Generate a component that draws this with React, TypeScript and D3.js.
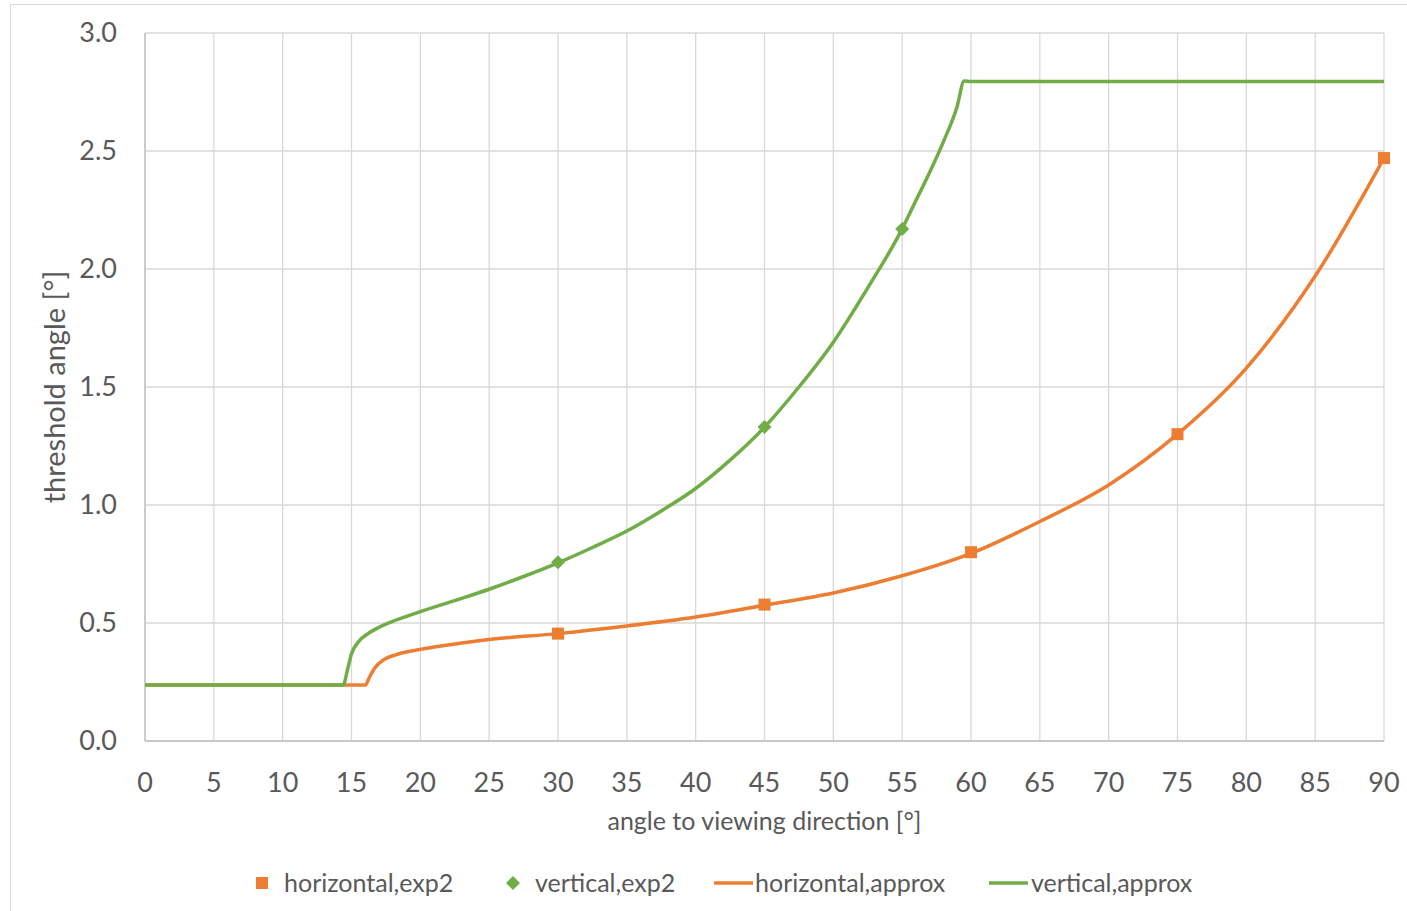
import React from "react";
import * as d3 from "d3";

const xTicks = [0, 5, 10, 15, 20, 25, 30, 35, 40, 45, 50, 55, 60, 65, 70, 75, 80, 85, 90];
const yTicks = [0, 0.5, 1.0, 1.5, 2.0, 2.5, 3.0];

const horizExpX = [30, 45, 60, 75, 90];
const horizExpY = [0.455, 0.578, 0.8, 1.3, 2.47];
const vertExpX = [30, 45, 55];
const vertExpY = [0.757, 1.33, 2.17];

const horizApproxX = [0, 16, 16.3, 16.7, 17.3, 18.2, 19.5, 21, 23, 25, 30, 35, 40, 45, 50, 55, 60, 65, 70, 75, 80, 85, 90];
const horizApproxY = [0.237, 0.237, 0.27, 0.31, 0.343, 0.365, 0.383, 0.398, 0.415, 0.43, 0.455, 0.487, 0.525, 0.575, 0.627, 0.7, 0.795, 0.93, 1.085, 1.3, 1.58, 1.97, 2.47];
const vertApproxX = [0, 14.4, 14.7, 15, 15.5, 16.2, 17, 18, 19, 20, 22.5, 25, 27.5, 30, 32.5, 35, 37.5, 40, 42.5, 45, 47.5, 50, 52.5, 55, 56, 57, 58, 59, 59.5, 60, 90];
const vertApproxY = [0.237, 0.237, 0.3, 0.37, 0.42, 0.455, 0.482, 0.507, 0.528, 0.548, 0.595, 0.643, 0.697, 0.755, 0.82, 0.89, 0.975, 1.07, 1.19, 1.33, 1.5, 1.69, 1.92, 2.17, 2.29, 2.41, 2.54, 2.69, 2.797, 2.795, 2.795];

const ORANGE = "#ED7D31";
const GREEN = "#70AD47";
const FONT = "Lato, 'Open Sans', sans-serif";

export default function App() {
  const W = 1407, H = 911;
  const L = 145, R = 1384, T = 33, B = 741;
  const x = d3.scaleLinear().domain([0, 90]).range([L, R]);
  const y = d3.scaleLinear().domain([0, 3]).range([B, T]);
  const line = d3.line<[number, number]>().x(d => x(d[0])).y(d => y(d[1])).curve(d3.curveMonotoneX);
  const hPts = horizApproxX.map((v, i) => [v, horizApproxY[i]] as [number, number]);
  const vPts = vertApproxX.map((v, i) => [v, vertApproxY[i]] as [number, number]);
  const diamond = (cx: number, cy: number, r: number) => `M${cx},${cy - r}L${cx + r},${cy}L${cx},${cy + r}L${cx - r},${cy}Z`;

  return (
    <svg width={W} height={H} style={{ position: "absolute", left: 0, top: 0, background: "#fff" }}>
      <rect x={10.5} y={4.5} width={1420} height={930} fill="#fff" stroke="#d9d9d9" />
      {xTicks.map(t => (
        <line key={"gx" + t} x1={x(t)} x2={x(t)} y1={T} y2={B} stroke="#d9d9d9" strokeWidth={1.3} />
      ))}
      {yTicks.map(t => (
        <line key={"gy" + t} x1={L} x2={R} y1={y(t)} y2={y(t)} stroke="#d9d9d9" strokeWidth={1.3} />
      ))}
      <line x1={L} x2={L} y1={T} y2={B} stroke="#bfbfbf" strokeWidth={1.3} />
      <line x1={L} x2={R} y1={B} y2={B} stroke="#bfbfbf" strokeWidth={1.3} />
      {yTicks.map(t => (
        <text key={"ly" + t} x={117} y={y(t)} dy="0.35em" textAnchor="end" fontFamily={FONT} fontSize={27} fill="#595959">
          {t.toFixed(1)}
        </text>
      ))}
      {xTicks.map(t => (
        <text key={"lx" + t} x={x(t)} y={792} textAnchor="middle" fontFamily={FONT} fontSize={27} fill="#595959">
          {t}
        </text>
      ))}
      <text x={(L + R) / 2} y={830} textAnchor="middle" fontFamily={FONT} fontSize={25} fill="#595959">
        angle to viewing direction [°]
      </text>
      <text transform={`translate(65,${(T + B) / 2}) rotate(-90)`} textAnchor="middle" fontFamily={FONT} fontSize={29} fill="#595959">
        threshold angle [°]
      </text>
      <path d={line(hPts) || ""} fill="none" stroke={ORANGE} strokeWidth={3.5} strokeLinejoin="round" />
      <path d={line(vPts) || ""} fill="none" stroke={GREEN} strokeWidth={3.5} strokeLinejoin="round" />
      {horizExpX.map((v, i) => (
        <rect key={"hm" + i} x={x(v) - 6} y={y(horizExpY[i]) - 6} width={12} height={12} fill={ORANGE} />
      ))}
      {vertExpX.map((v, i) => (
        <path key={"vm" + i} d={diamond(x(v), y(vertExpY[i]), 7)} fill={GREEN} />
      ))}
      <g fontFamily={FONT} fontSize={25} fill="#595959">
        <rect x={256} y={877} width={12} height={12} fill={ORANGE} />
        <text x={284} y={892}>horizontal,exp2</text>
        <path d={diamond(513, 883, 7)} fill={GREEN} />
        <text x={535} y={892}>vertical,exp2</text>
        <line x1={714} x2={753} y1={883} y2={883} stroke={ORANGE} strokeWidth={3.5} />
        <text x={755} y={892}>horizontal,approx</text>
        <line x1={989} x2={1028} y1={883} y2={883} stroke={GREEN} strokeWidth={3.5} />
        <text x={1031} y={892}>vertical,approx</text>
      </g>
    </svg>
  );
}
